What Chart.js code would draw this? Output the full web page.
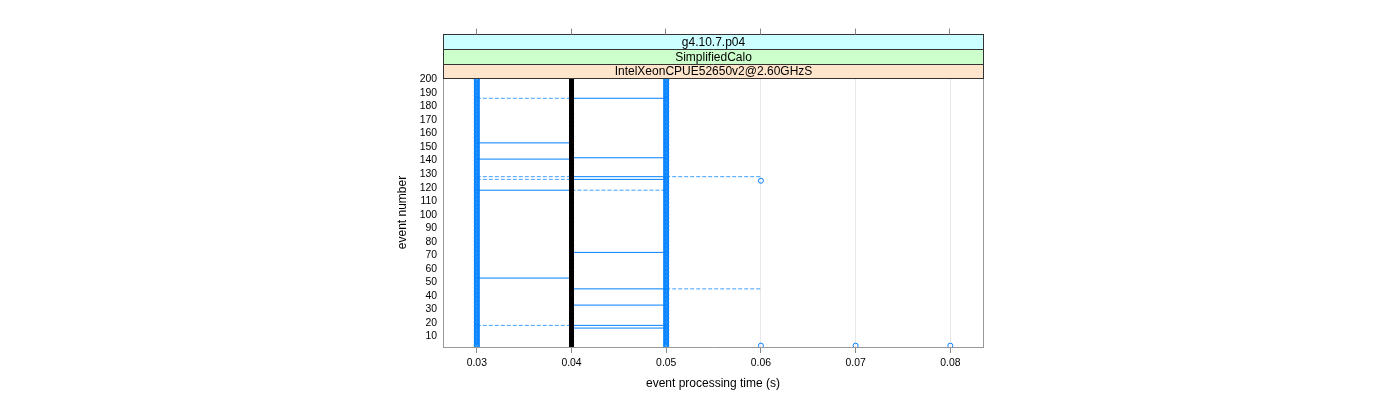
<!DOCTYPE html>
<html>
<head>
<meta charset="utf-8">
<script src="https://cdn.jsdelivr.net/npm/chart.js@4.4.1/dist/chart.umd.min.js"></script>
<style>
html,body{margin:0;padding:0;background:#ffffff;}
#wrap{width:1400px;height:400px;position:relative;}
</style>
</head>
<body>
<div id="wrap"><canvas id="c" width="1400" height="400"></canvas></div>
<script>
// ---------------- data ----------------
const stripLabels = ['g4.10.7.p04', 'SimplifiedCalo', 'IntelXeonCPUE52650v2@2.60GHzS'];
const stripColors = ['#ccffff', '#ccffcc', '#ffe5cc'];
const xTickValues = [0.03, 0.04, 0.05, 0.06, 0.07, 0.08];
const yTickValues = [10, 20, 30, 40, 50, 60, 70, 80, 90, 100, 110, 120, 130, 140, 150, 160, 170, 180, 190, 200];
const xTitle = 'event processing time (s)';
const yTitle = 'event number';

const eventNumbers = [
  1,2,3,4,5,6,7,8,9,10,11,12,13,14,15,16,17,18,19,20,
  21,22,23,24,25,26,27,28,29,30,31,32,33,34,35,36,37,38,39,40,
  41,42,43,44,45,46,47,48,49,50,51,52,53,54,55,56,57,58,59,60,
  61,62,63,64,65,66,67,68,69,70,71,72,73,74,75,76,77,78,79,80,
  81,82,83,84,85,86,87,88,89,90,91,92,93,94,95,96,97,98,99,100,
  101,102,103,104,105,106,107,108,109,110,111,112,113,114,115,116,117,118,119,120,
  121,122,123,124,125,126,127,128,129,130,131,132,133,134,135,136,137,138,139,140,
  141,142,143,144,145,146,147,148,149,150,151,152,153,154,155,156,157,158,159,160,
  161,162,163,164,165,166,167,168,169,170,171,172,173,174,175,176,177,178,179,180,
  181,182,183,184,185,186,187,188,189,190,191,192,193,194,195,196,197,198,199,200
];
// lowest processing time per event (s)
const lowTimes = [
  0.03,0.03,0.03,0.03,0.03,0.03,0.03,0.03,0.03,0.03,0.03,0.03,0.03,0.03,0.03,0.03,0.03,0.03,0.03,0.03,
  0.03,0.03,0.03,0.03,0.03,0.03,0.03,0.03,0.03,0.03,0.03,0.03,0.03,0.03,0.03,0.03,0.03,0.03,0.03,0.03,
  0.03,0.03,0.03,0.03,0.03,0.03,0.03,0.03,0.03,0.03,0.03,0.03,0.03,0.03,0.03,0.03,0.03,0.03,0.03,0.03,
  0.03,0.03,0.03,0.03,0.03,0.03,0.03,0.03,0.03,0.03,0.03,0.03,0.03,0.03,0.03,0.03,0.03,0.03,0.03,0.03,
  0.03,0.03,0.03,0.03,0.03,0.03,0.03,0.03,0.03,0.03,0.03,0.03,0.03,0.03,0.03,0.03,0.03,0.03,0.03,0.03,
  0.03,0.03,0.03,0.03,0.03,0.03,0.03,0.03,0.03,0.03,0.03,0.03,0.03,0.03,0.03,0.03,0.03,0.03,0.03,0.03,
  0.03,0.03,0.03,0.03,0.03,0.03,0.03,0.03,0.03,0.03,0.03,0.03,0.03,0.03,0.03,0.03,0.03,0.03,0.03,0.03,
  0.03,0.03,0.03,0.03,0.03,0.03,0.03,0.03,0.03,0.03,0.03,0.03,0.03,0.03,0.03,0.03,0.03,0.03,0.03,0.03,
  0.03,0.03,0.03,0.03,0.03,0.03,0.03,0.03,0.03,0.03,0.03,0.03,0.03,0.03,0.03,0.03,0.03,0.03,0.03,0.03,
  0.03,0.03,0.03,0.03,0.03,0.03,0.03,0.03,0.03,0.03,0.03,0.03,0.03,0.03,0.03,0.03,0.03,0.03,0.03,0.03
];
// median processing time per event (s)
const medianTimes = [
  0.04,0.04,0.04,0.04,0.04,0.04,0.04,0.04,0.04,0.04,0.04,0.04,0.04,0.04,0.04,0.04,0.04,0.04,0.04,0.04,
  0.04,0.04,0.04,0.04,0.04,0.04,0.04,0.04,0.04,0.04,0.04,0.04,0.04,0.04,0.04,0.04,0.04,0.04,0.04,0.04,
  0.04,0.04,0.04,0.04,0.04,0.04,0.04,0.04,0.04,0.04,0.04,0.04,0.04,0.04,0.04,0.04,0.04,0.04,0.04,0.04,
  0.04,0.04,0.04,0.04,0.04,0.04,0.04,0.04,0.04,0.04,0.04,0.04,0.04,0.04,0.04,0.04,0.04,0.04,0.04,0.04,
  0.04,0.04,0.04,0.04,0.04,0.04,0.04,0.04,0.04,0.04,0.04,0.04,0.04,0.04,0.04,0.04,0.04,0.04,0.04,0.04,
  0.04,0.04,0.04,0.04,0.04,0.04,0.04,0.04,0.04,0.04,0.04,0.04,0.04,0.04,0.04,0.04,0.04,0.04,0.04,0.04,
  0.04,0.04,0.04,0.04,0.04,0.04,0.04,0.04,0.04,0.04,0.04,0.04,0.04,0.04,0.04,0.04,0.04,0.04,0.04,0.04,
  0.04,0.04,0.04,0.04,0.04,0.04,0.04,0.04,0.04,0.04,0.04,0.04,0.04,0.04,0.04,0.04,0.04,0.04,0.04,0.04,
  0.04,0.04,0.04,0.04,0.04,0.04,0.04,0.04,0.04,0.04,0.04,0.04,0.04,0.04,0.04,0.04,0.04,0.04,0.04,0.04,
  0.04,0.04,0.04,0.04,0.04,0.04,0.04,0.04,0.04,0.04,0.04,0.04,0.04,0.04,0.04,0.04,0.04,0.04,0.04,0.04
];
// highest regular processing time per event (s)
const highTimes = [
  0.05,0.05,0.05,0.05,0.05,0.05,0.05,0.05,0.05,0.05,0.05,0.05,0.05,0.05,0.05,0.05,0.05,0.05,0.05,0.05,
  0.05,0.05,0.05,0.05,0.05,0.05,0.05,0.05,0.05,0.05,0.05,0.05,0.05,0.05,0.05,0.05,0.05,0.05,0.05,0.05,
  0.05,0.05,0.05,0.05,0.05,0.05,0.05,0.05,0.05,0.05,0.05,0.05,0.05,0.05,0.05,0.05,0.05,0.05,0.05,0.05,
  0.05,0.05,0.05,0.05,0.05,0.05,0.05,0.05,0.05,0.05,0.05,0.05,0.05,0.05,0.05,0.05,0.05,0.05,0.05,0.05,
  0.05,0.05,0.05,0.05,0.05,0.05,0.05,0.05,0.05,0.05,0.05,0.05,0.05,0.05,0.05,0.05,0.05,0.05,0.05,0.05,
  0.05,0.05,0.05,0.05,0.05,0.05,0.05,0.05,0.05,0.05,0.05,0.05,0.05,0.05,0.05,0.05,0.05,0.05,0.05,0.05,
  0.05,0.05,0.05,0.05,0.05,0.05,0.05,0.05,0.05,0.05,0.05,0.05,0.05,0.05,0.05,0.05,0.05,0.05,0.05,0.05,
  0.05,0.05,0.05,0.05,0.05,0.05,0.05,0.05,0.05,0.05,0.05,0.05,0.05,0.05,0.05,0.05,0.05,0.05,0.05,0.05,
  0.05,0.05,0.05,0.05,0.05,0.05,0.05,0.05,0.05,0.05,0.05,0.05,0.05,0.05,0.05,0.05,0.05,0.05,0.05,0.05,
  0.05,0.05,0.05,0.05,0.05,0.05,0.05,0.05,0.05,0.05,0.05,0.05,0.05,0.05,0.05,0.05,0.05,0.05,0.05,0.05
];
// box edges (solid) drawn for a few events
const solidEvents = [185, 152, 141, 140, 127, 125, 117, 71, 52, 44, 32, 17, 15];
const solidFrom   = [0.04, 0.03, 0.04, 0.03, 0.04, 0.04, 0.03, 0.04, 0.03, 0.04, 0.04, 0.04, 0.04];
const solidTo     = [0.05, 0.04, 0.05, 0.04, 0.05, 0.05, 0.04, 0.05, 0.04, 0.05, 0.05, 0.05, 0.05];
// whiskers (dashed)
const dashedEvents = [185, 127, 125, 127, 117, 44, 17];
const dashedFrom   = [0.03, 0.03, 0.03, 0.05, 0.04, 0.05, 0.03];
const dashedTo     = [0.04, 0.04, 0.04, 0.06, 0.05, 0.06, 0.04];
// outliers (open circles)
const outlierEvents = [124, 2, 2, 2];
const outlierTimes  = [0.06, 0.06, 0.07, 0.08];

// ---------------- chart ----------------
const FONT = '"Liberation Sans", Arial, Helvetica, sans-serif';
Chart.defaults.font.family = FONT;
Chart.defaults.color = '#000000';

const BLUE = '#0080ff';
const datasets = [];

function pts(ev, vals) { return ev.map((e, i) => ({ x: vals[i], y: e })); }

solidEvents.forEach((e, i) => {
  datasets.push({
    data: [{ x: solidFrom[i], y: e }, { x: solidTo[i], y: e }],
    showLine: true, borderColor: BLUE, borderWidth: 1, pointRadius: 0,
    fill: false, tension: 0, order: 5, clip: 0
  });
});
dashedEvents.forEach((e, i) => {
  datasets.push({
    data: [{ x: dashedFrom[i], y: e }, { x: dashedTo[i], y: e }],
    showLine: true, borderColor: 'rgba(0,128,255,0.75)', borderWidth: 1, borderDash: [4, 2],
    pointRadius: 0, fill: false, tension: 0, order: 5, clip: 0
  });
});
datasets.push({
  data: pts(eventNumbers, lowTimes), showLine: false,
  pointRadius: 2.5, pointBorderWidth: 1, pointBorderColor: BLUE,
  pointBackgroundColor: 'rgba(0,0,0,0)', order: 3, clip: 0
});
datasets.push({
  data: pts(eventNumbers, highTimes), showLine: false,
  pointRadius: 2.5, pointBorderWidth: 1, pointBorderColor: BLUE,
  pointBackgroundColor: 'rgba(0,0,0,0)', order: 3, clip: 0
});
datasets.push({
  data: pts(eventNumbers, medianTimes), showLine: false,
  pointRadius: 2.5, pointBorderWidth: 0, pointBorderColor: '#000000',
  pointBackgroundColor: '#000000', order: 1, clip: 0
});
datasets.push({
  data: pts(outlierEvents, outlierTimes), showLine: false,
  pointRadius: 2.5, pointBorderWidth: 1, pointBorderColor: BLUE,
  pointBackgroundColor: 'rgba(0,0,0,0)', order: 2
});

const decor = {
  id: 'decor',
  afterDraw(chart) {
    const ctx = chart.ctx, a = chart.chartArea, xs = chart.scales.x;
    ctx.save();
    // right border of panel
    ctx.strokeStyle = '#999999'; ctx.lineWidth = 1;
    ctx.beginPath(); ctx.moveTo(a.right + 0.5, a.top); ctx.lineTo(a.right + 0.5, a.bottom + 0.5); ctx.stroke();
    // strips
    const L = a.left + 0.5, R = a.right + 0.5;
    const bounds = [34.5, 49.5, 64.5, 78.5];
    for (let i = 0; i < 3; i++) {
      ctx.fillStyle = stripColors[i];
      ctx.fillRect(L, bounds[i], R - L, bounds[i + 1] - bounds[i]);
    }
    ctx.strokeStyle = '#333333';
    ctx.strokeRect(L, bounds[0], R - L, bounds[3] - bounds[0]);
    ctx.beginPath();
    ctx.moveTo(L, bounds[1]); ctx.lineTo(R, bounds[1]);
    ctx.moveTo(L, bounds[2]); ctx.lineTo(R, bounds[2]);
    ctx.stroke();
    ctx.fillStyle = '#000000';
    ctx.font = '12px ' + FONT;
    ctx.textAlign = 'center'; ctx.textBaseline = 'middle';
    for (let i = 0; i < 3; i++) {
      ctx.fillText(stripLabels[i], (L + R) / 2, (bounds[i] + bounds[i + 1]) / 2 + 0.5);
    }
    // top tick marks
    ctx.strokeStyle = '#888888';
    ctx.beginPath();
    xTickValues.forEach(v => {
      const px = Math.round(xs.getPixelForValue(v)) - 0.5;
      ctx.moveTo(px, 28.5); ctx.lineTo(px, 34.5);
    });
    ctx.stroke();
    // axis titles
    ctx.fillStyle = '#000000';
    ctx.fillText(xTitle, (a.left + a.right) / 2, 383.5);
    ctx.translate(403, (a.top + a.bottom) / 2);
    ctx.rotate(-Math.PI / 2);
    ctx.fillText(yTitle, 0, 0);
    ctx.restore();
  }
};

new Chart(document.getElementById('c'), {
  type: 'scatter',
  data: { datasets },
  options: {
    responsive: false,
    devicePixelRatio: 1,
    animation: false,
    events: [],
    layout: { padding: { left: 0, top: 78, right: 417, bottom: 0 } },
    plugins: { legend: { display: false }, tooltip: { enabled: false }, title: { display: false } },
    scales: {
      x: {
        type: 'linear', position: 'bottom',
        min: 0.02643, max: 0.08345,
        afterBuildTicks: s => { s.ticks = xTickValues.map(v => ({ value: v })); },
        afterFit: s => { s.height = 53; },
        ticks: {
          callback: v => Number(v).toFixed(2),
          font: { size: 10.4, family: FONT }, color: '#000000',
          padding: 4, maxRotation: 0, autoSkip: false
        },
        grid: { color: '#e8e8e8', lineWidth: 1, drawTicks: true, tickLength: 6, tickColor: '#888888' },
        border: { display: true, color: '#999999', width: 1 },
        title: { display: false }
      },
      y: {
        type: 'linear', position: 'left',
        min: 1, max: 200,
        afterBuildTicks: s => { s.ticks = yTickValues.map(v => ({ value: v })); },
        afterFit: s => { s.width = 443; },
        ticks: {
          font: { size: 10.4, family: FONT }, color: '#000000',
          padding: 6, autoSkip: false, labelOffset: 1.5
        },
        grid: { display: false, drawTicks: false },
        border: { display: true, color: '#999999', width: 1 },
        title: { display: false }
      }
    }
  },
  plugins: [decor]
});
</script>
</body>
</html>
